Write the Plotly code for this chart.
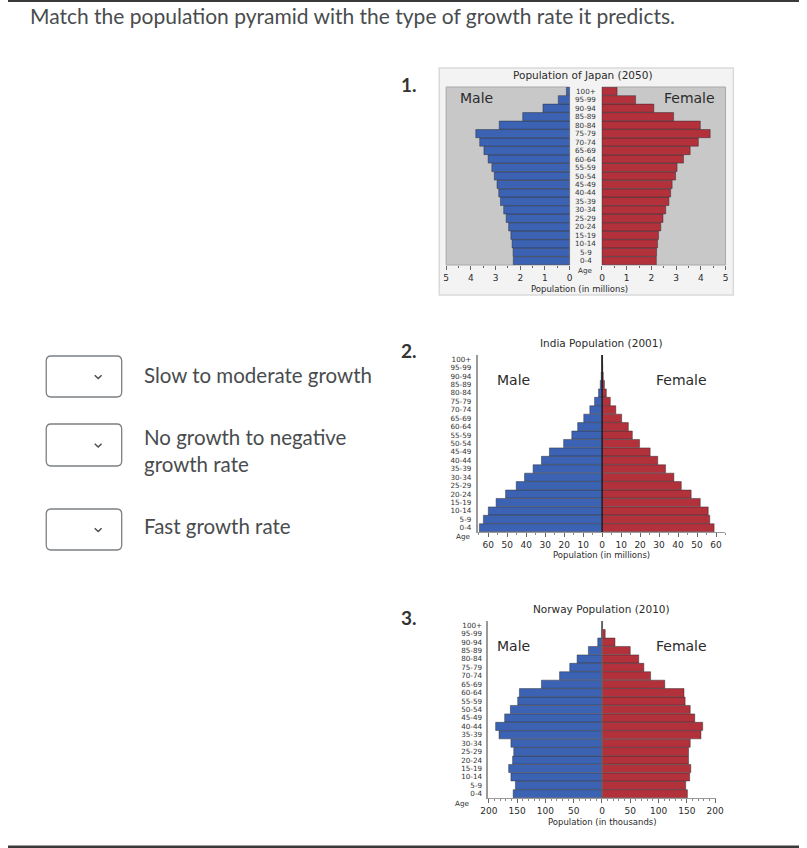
import plotly.graph_objects as go

W, H = 807, 848

# ---------------- data ----------------
ages = ['0-4', '5-9', '10-14', '15-19', '20-24', '25-29', '30-34', '35-39', '40-44',
        '45-49', '50-54', '55-59', '60-64', '65-69', '70-74', '75-79', '80-84',
        '85-89', '90-94', '95-99', '100+']

japan_male = [2.28, 2.29, 2.33, 2.38, 2.47, 2.57, 2.67, 2.80, 2.87, 2.94, 3.05,
              3.15, 3.30, 3.47, 3.64, 3.80, 2.85, 1.90, 1.08, 0.46, 0.13]
japan_female = [2.20, 2.21, 2.25, 2.29, 2.38, 2.47, 2.58, 2.71, 2.78, 2.84, 2.98,
                3.04, 3.30, 3.57, 3.90, 4.38, 3.98, 2.90, 2.10, 1.36, 0.61]

india_male = [64.7, 62.6, 60.0, 55.9, 50.9, 45.3, 40.9, 36.4, 32.0, 27.8, 20.3,
              16.0, 12.9, 9.7, 6.5, 4.0, 1.9, 1.0, 0.5, 0.3, 0.3]
india_female = [59.0, 56.7, 55.9, 51.7, 46.9, 41.7, 37.8, 33.4, 29.3, 25.3, 19.7,
                15.9, 13.8, 10.3, 7.2, 4.3, 2.2, 1.2, 0.6, 0.3, 0.2]

norway_male = [157, 153, 161, 165, 158, 156, 161, 182, 188, 172, 162,
               149, 146, 107, 75, 57, 44, 24, 7.5, 1.0, 0.3]
norway_female = [151, 148, 155, 157, 153, 153, 156, 175, 178, 164, 156,
                 147, 145, 111, 86, 74, 65, 50, 23, 5.7, 1.0]

japan_ticks = [0, 1, 2, 3, 4, 5]
india_ticks = [60, 50, 40, 30, 20, 10, 0, 10, 20, 30, 40, 50, 60]
norway_ticks = [200, 150, 100, 50, 0, 50, 100, 150, 200]

question = "Match the population pyramid with the type of growth rate it predicts."
choices = ["Slow to moderate growth", "No growth to negative<br>growth rate", "Fast growth rate"]

# ---------------- styles ----------------
BLUE = "#3c63b3"
RED = "#b3313a"
EDGE = "rgba(35,35,45,0.75)"
PF = "DejaVu Sans"
UI = "Lato"
TXT = "#2b2b2b"
UITXT = "#494c4e"


def X(p):
    return p / W


def Y(p):
    return 1 - p / H


fig = go.Figure()

bar_common = dict(orientation='h', marker_line_color=EDGE, marker_line_width=0.6,
                  hoverinfo='skip', showlegend=False)

fig.add_trace(go.Bar(x=japan_male, y=ages, marker_color=BLUE, xaxis='x', yaxis='y', **bar_common))
fig.add_trace(go.Bar(x=japan_female, y=ages, marker_color=RED, xaxis='x2', yaxis='y2', **bar_common))
fig.add_trace(go.Bar(x=[-v for v in india_male], y=ages, marker_color=BLUE, xaxis='x3', yaxis='y3', **bar_common))
fig.add_trace(go.Bar(x=india_female, y=ages, marker_color=RED, xaxis='x3', yaxis='y3', **bar_common))
fig.add_trace(go.Bar(x=[-v for v in norway_male], y=ages, marker_color=BLUE, xaxis='x4', yaxis='y4', **bar_common))
fig.add_trace(go.Bar(x=norway_female, y=ages, marker_color=RED, xaxis='x4', yaxis='y4', **bar_common))

tickfont = dict(family=PF, size=9, color=TXT)
agefont = dict(family=PF, size=7.2, color="#333")

yjap = dict(range=[-0.5, 20.5], showticklabels=False, showgrid=False, zeroline=False,
            ticks='', showline=False, fixedrange=True)
xbase = dict(showgrid=False, zeroline=False, ticks='outside', ticklen=4, tickwidth=1,
             tickcolor="#666", tickfont=tickfont, fixedrange=True)
yside = dict(range=[-0.5, 20.5], showline=True, linecolor="#9a9a9a", linewidth=1.5,
             showgrid=False, zeroline=False, ticks='', tickfont=agefont, fixedrange=True,
             tickmode='array', tickvals=ages, ticktext=ages, ticklabelstandoff=3)

fig.update_layout(
    width=W, height=H, margin=dict(l=0, r=0, t=0, b=0),
    paper_bgcolor='white', plot_bgcolor='rgba(0,0,0,0)',
    barmode='relative', bargap=0.04,
    xaxis=dict(domain=[X(447), X(573)], range=[5, 0], anchor='y',
               tickvals=japan_ticks, ticktext=[str(t) for t in japan_ticks],
               minor=dict(ticks='outside', ticklen=2, dtick=0.5, tick0=0, tickcolor="#666"),
               showline=False, **xbase),
    yaxis=dict(domain=[Y(265), Y(87)], anchor='x', **yjap),
    xaxis2=dict(domain=[X(606), X(732)], range=[0, 5], anchor='y2',
                tickvals=japan_ticks, ticktext=[str(t) for t in japan_ticks],
                minor=dict(ticks='outside', ticklen=2, dtick=0.5, tick0=0, tickcolor="#666"),
                showline=False, **xbase),
    yaxis2=dict(domain=[Y(265), Y(87)], anchor='x2', **yjap),
    xaxis3=dict(domain=[X(479), X(732)], range=[-65.7, 65], anchor='y3',
                tickvals=[-60, -50, -40, -30, -20, -10, 0, 10, 20, 30, 40, 50, 60],
                ticktext=[str(t) for t in india_ticks],
                minor=dict(ticks='outside', ticklen=2, dtick=5, tick0=0, tickcolor="#888"),
                showline=True, linecolor="#9a9a9a", linewidth=1, **xbase),
    yaxis3=dict(domain=[Y(532), Y(355)], anchor='x3', **yside),
    xaxis4=dict(domain=[X(490), X(722)], range=[-201, 201], anchor='y4',
                tickvals=[-200, -150, -100, -50, 0, 50, 100, 150, 200],
                ticktext=[str(t) for t in norway_ticks],
                minor=dict(ticks='outside', ticklen=2, dtick=10, tick0=0, tickcolor="#888"),
                showline=True, linecolor="#9a9a9a", linewidth=1, **xbase),
    yaxis4=dict(domain=[Y(798), Y(621)], anchor='x4', **yside),
)

shapes = []
# page rules
shapes.append(dict(type='rect', xref='paper', yref='paper', x0=0, x1=1, y0=Y(2), y1=Y(0),
                   fillcolor="#3a3a3a", line_width=0, layer='below'))
shapes.append(dict(type='rect', xref='paper', yref='paper', x0=0, x1=1, y0=Y(848), y1=Y(845.5),
                   fillcolor="#3a3a3a", line_width=0, layer='below'))
# Japan frame
shapes.append(dict(type='rect', xref='paper', yref='paper', x0=X(440), x1=X(740), y0=Y(295), y1=Y(68),
                   fillcolor="#f3f3f3", line=dict(color="#dadada", width=1.5), layer='below'))
for ax in ['x', 'x2']:
    yy = 'y' if ax == 'x' else 'y2'
    shapes.append(dict(type='rect', xref=f'{ax} domain', yref=f'{yy} domain', x0=0, x1=1, y0=0, y1=1,
                       fillcolor="#c8c8c8", line=dict(color="#a8a8a8", width=1), layer='below'))
# center lines
shapes.append(dict(type='line', xref='x3', yref='y3 domain', x0=0, x1=0, y0=0, y1=1,
                   line=dict(color="#1a1a1a", width=1.2)))
shapes.append(dict(type='line', xref='x4', yref='y4 domain', x0=0, x1=0, y0=0, y1=1,
                   line=dict(color="#777", width=1)))


def rrect(x0, y0, x1, y1, r):
    pts = [
        f"M {X(x0 + r)},{Y(y0)}",
        f"L {X(x1 - r)},{Y(y0)}",
        f"Q {X(x1)},{Y(y0)} {X(x1)},{Y(y0 + r)}",
        f"L {X(x1)},{Y(y1 - r)}",
        f"Q {X(x1)},{Y(y1)} {X(x1 - r)},{Y(y1)}",
        f"L {X(x0 + r)},{Y(y1)}",
        f"Q {X(x0)},{Y(y1)} {X(x0)},{Y(y1 - r)}",
        f"L {X(x0)},{Y(y0 + r)}",
        f"Q {X(x0)},{Y(y0)} {X(x0 + r)},{Y(y0)} Z",
    ]
    return " ".join(pts)


boxes = [(356, 397), (424, 466), (509, 550)]
for (b0, b1) in boxes:
    shapes.append(dict(type='path', xref='paper', yref='paper', path=rrect(39, b0, 116, b1, 5),
                       line=dict(color="#7c8084", width=1.3), fillcolor='white'))
    cy = (b0 + b1) / 2 + 0.5
    shapes.append(dict(type='path', xref='paper', yref='paper',
                       path=f"M {X(88.5)},{Y(cy - 1.8)} L {X(92)},{Y(cy + 1.6)} L {X(95.5)},{Y(cy - 1.8)}",
                       line=dict(color=UITXT, width=1.4)))

fig.update_layout(shapes=shapes)

ann = []


def txt(x, y, s, size, family=PF, color=TXT, xanchor='center', bold=False, yref='paper', yval=None):
    ann.append(dict(x=X(x), y=(Y(y) if yval is None else yval), xref='paper', yref=yref, text=s,
                    showarrow=False, xanchor=xanchor, yanchor='middle',
                    align=xanchor if xanchor != 'center' else 'center',
                    font=dict(family=family, size=size, color=color,
                              weight=('bold' if bold else 'normal'))))


# page text
txt(20, 16, question, 21, family=UI, color=UITXT, xanchor='left')
txt(137, 375, choices[0], 20.5, family=UI, color=UITXT, xanchor='left')
txt(137, 450.5, choices[1], 20.5, family=UI, color=UITXT, xanchor='left')
txt(137, 526, choices[2], 20.5, family=UI, color=UITXT, xanchor='left')
txt(409, 84, "1.", 19, family=UI, color="#333", bold=True)
txt(409, 351, "2.", 19, family=UI, color="#333", bold=True)
txt(409, 617, "3.", 19, family=UI, color="#333", bold=True)

# Japan
txt(587, 75, "Population of Japan (2050)", 10.5)
txt(478, 98, "Male", 14)
txt(695, 98, "Female", 14)
txt(583, 289, "Population (in millions)", 8.5)
txt(589, 270, "Age", 7.2, color="#333")
for a in ages:
    txt(589.5, 0, a, 7.2, color="#333", yref='y', yval=a)

# India
txt(606, 343, "India Population (2001)", 10.5)
txt(516, 380, "Male", 14)
txt(687, 380, "Female", 14)
txt(606, 555, "Population (in millions)", 8.5)
txt(464, 536, "Age", 7.2, color="#333")

# Norway
txt(606, 609, "Norway Population (2010)", 10.5)
txt(516, 646, "Male", 14)
txt(687, 646, "Female", 14)
txt(607, 822, "Population (in thousands)", 8.5)
txt(463, 803, "Age", 7.2, color="#333")

fig.update_layout(annotations=ann)

fig.write_html("out.html", post_script="document.body.style.margin='0';document.body.style.padding='0';")
